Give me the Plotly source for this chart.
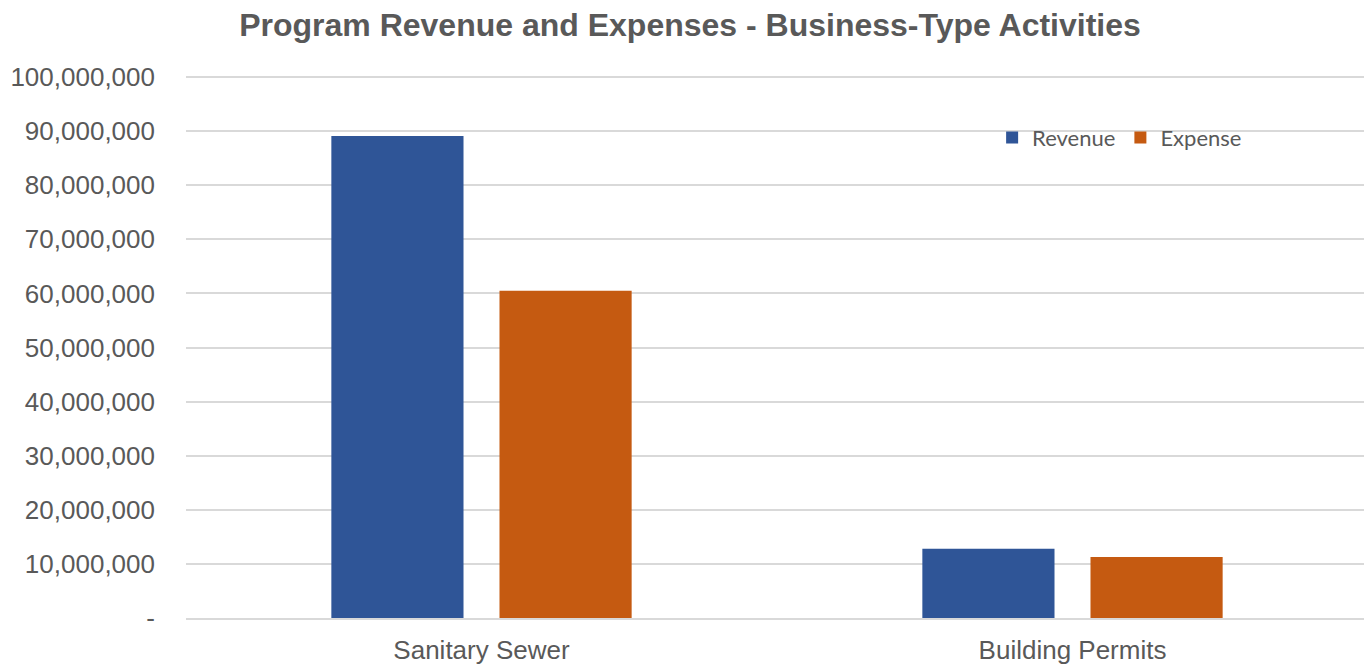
import plotly.graph_objects as go

categories = ["Sanitary Sewer", "Building Permits"]
revenue = [89100000, 12800000]
expense = [60500000, 11300000]
tick_values = [0, 10000000, 20000000, 30000000, 40000000, 50000000, 60000000, 70000000, 80000000, 90000000, 100000000]
tick_labels = ["-", "10,000,000", "20,000,000", "30,000,000", "40,000,000", "50,000,000",
               "60,000,000", "70,000,000", "80,000,000", "90,000,000", "100,000,000"]

fig = go.Figure()
fig.add_trace(go.Bar(name="Revenue", x=categories, y=revenue, marker=dict(color="#2F5597", line=dict(width=0))))
fig.add_trace(go.Bar(name="Expense", x=categories, y=expense, marker=dict(color="#C55A11", line=dict(width=0))))

fig.update_layout(
    width=1364, height=656,
    margin=dict(l=178, r=4, t=68, b=46, autoexpand=False),
    paper_bgcolor="white", plot_bgcolor="white",
    barmode="group", bargap=0.431, bargroupgap=0.214,
    title=dict(text="<b>Program Revenue and Expenses - Business-Type Activities</b>",
               x=0.5, xanchor="center", y=0.974, yanchor="middle",
               font=dict(family="Liberation Sans", size=32, color="#595959")),
    legend=dict(orientation="h", x=0.682, xanchor="left", y=0.886, yanchor="middle",
                font=dict(family="Lato", size=22, color="#595959"),
                bgcolor="rgba(0,0,0,0)", traceorder="normal"),
    font=dict(family="Liberation Sans", color="#595959"),
)
fig.update_yaxes(range=[0, 100200000], tickvals=tick_values, ticktext=tick_labels,
                 showgrid=True, gridcolor="#D9D9D9", gridwidth=1.5, zeroline=False,
                 showline=False, ticks="", ticklabelstandoff=30, automargin=False,
                 tickfont=dict(family="Liberation Sans", size=26, color="#595959"))
fig.update_xaxes(showline=True, linecolor="#D9D9D9", linewidth=1.5, ticks="", automargin=False,
                 ticklabelstandoff=8,
                 tickfont=dict(family="Liberation Sans", size=26, color="#595959"))

fig.write_html("out.html")
